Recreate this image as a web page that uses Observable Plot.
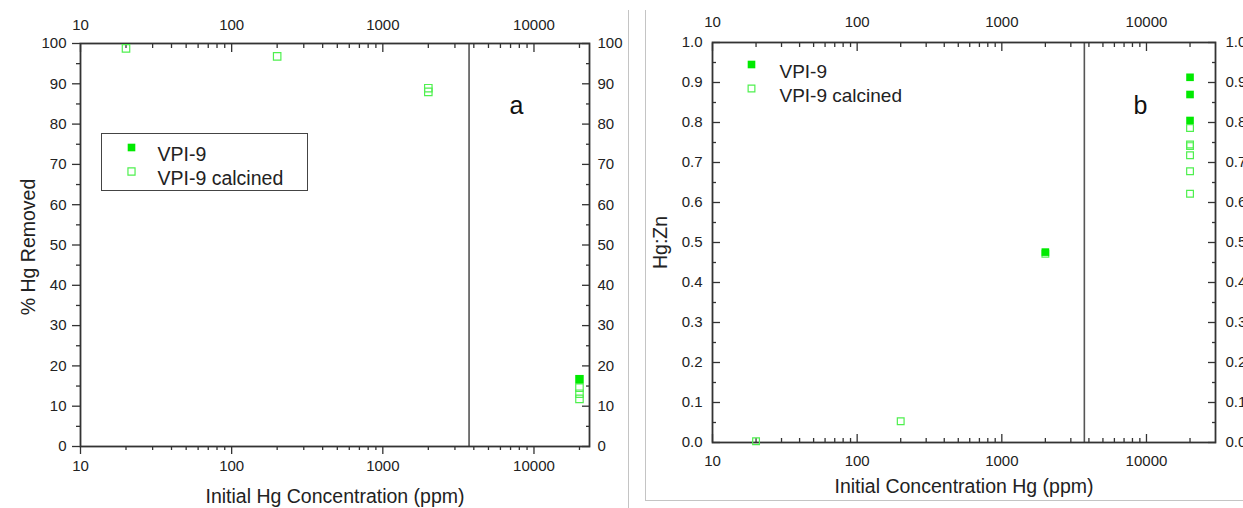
<!DOCTYPE html>
<html><head><meta charset="utf-8">
<script src="https://cdn.jsdelivr.net/npm/d3@7"></script>
<script src="https://cdn.jsdelivr.net/npm/@observablehq/plot@0.6"></script>
<style>
body{margin:0;background:#fff;}
#wrap{position:relative;width:1243px;height:508px;overflow:hidden;font-family:"Liberation Sans",Arial,sans-serif;background:#fff;}
#pa{position:absolute;left:0;top:0;}
#pb{position:absolute;left:629px;top:0;}
.sep{position:absolute;background:#c4c4c4;}
</style></head><body>
<div id="wrap"><div id="pa"></div><div id="pb"></div>
<div class="sep" style="left:628px;top:10px;width:1px;height:498px"></div>
<div class="sep" style="left:645px;top:10px;width:1px;height:491px"></div>
<div class="sep" style="left:645px;top:500px;width:598px;height:1px"></div>
</div>
<script>
// ---- shared x ticks ----
const majorX = [10, 100, 1000, 10000];
const minorX = [20, 30, 40, 50, 60, 70, 80, 90, 200, 300, 400, 500, 600, 700, 800, 900,
                2000, 3000, 4000, 5000, 6000, 7000, 8000, 9000, 20000];
const cutoff = [3720];

// ---- panel a: % Hg removed ----
const aMajorY = [0, 10, 20, 30, 40, 50, 60, 70, 80, 90, 100];
const aMinorY = [5, 15, 25, 35, 45, 55, 65, 75, 85, 95];
const aVpiX = [20000];
const aVpiY = [16.7];
const aCalX = [20, 200, 2000, 2000, 20000, 20000, 20000];
const aCalY = [98.8, 96.8, 88.9, 88.0, 14.6, 13.1, 11.8];

// ---- panel b: Hg:Zn ----
const bMajorY = [0, 0.1, 0.2, 0.3, 0.4, 0.5, 0.6, 0.7, 0.8, 0.9, 1.0];
const bMinorY = [0.05, 0.15, 0.25, 0.35, 0.45, 0.55, 0.65, 0.75, 0.85, 0.95];
const bVpiX = [2000, 20000, 20000, 20000];
const bVpiY = [0.476, 0.913, 0.870, 0.805];
const bCalX = [20, 200, 2000, 20000, 20000, 20000, 20000, 20000, 20000];
const bCalY = [0.003, 0.053, 0.472, 0.786, 0.745, 0.741, 0.718, 0.678, 0.622];

const seriesNames = ["VPI-9", "VPI-9 calcined"];
const FILL = "#00ea00", HOLLOW = "#4ff04f";
const FONT = "Liberation Sans, Arial, sans-serif";

function pts(xs, ys) { return xs.map((x, i) => ({x, y: ys[i]})); }
const none = () => "";

function axisMarks(cfg) {
  const m = [];
  const AX = "#333";
  const bIn = cfg.bottomIn;
  m.push(Plot.axisX({ticks: majorX, anchor: "bottom", tickSize: 8, dy: bIn ? -8 : 0, tickFormat: none, stroke: AX, strokeWidth: 1.3, label: null}));
  m.push(Plot.axisX({ticks: minorX, anchor: "bottom", tickSize: 4, dy: bIn ? -4 : 0, tickFormat: none, stroke: AX, strokeWidth: 1.3, label: null}));
  m.push(Plot.axisX({ticks: majorX, anchor: "bottom", tickSize: 0, tickPadding: cfg.bottomPad, tickFormat: d => String(d), fontSize: cfg.fs, label: null}));
  m.push(Plot.axisX({ticks: majorX, anchor: "top", tickSize: 8, dy: 8, tickFormat: none, stroke: AX, strokeWidth: 1.3, label: null}));
  m.push(Plot.axisX({ticks: minorX, anchor: "top", tickSize: 4, dy: 4, tickFormat: none, stroke: AX, strokeWidth: 1.3, label: null}));
  m.push(Plot.axisX({ticks: majorX, anchor: "top", tickSize: 0, tickPadding: cfg.topPad, tickFormat: d => String(d), fontSize: cfg.fs, label: null}));
  const lIn = cfg.leftIn;
  m.push(Plot.axisY({ticks: cfg.majorY, anchor: "left", tickSize: 8, dx: lIn ? 8 : 0, tickFormat: none, stroke: AX, strokeWidth: 1.3, label: null}));
  m.push(Plot.axisY({ticks: cfg.minorY, anchor: "left", tickSize: 4, dx: lIn ? 4 : 0, tickFormat: none, stroke: AX, strokeWidth: 1.3, label: null}));
  m.push(Plot.axisY({ticks: cfg.majorY, anchor: "left", tickSize: 0, tickPadding: cfg.leftPad, tickFormat: cfg.fmt, fontSize: cfg.fs, label: null}));
  m.push(Plot.axisY({ticks: cfg.majorY, anchor: "right", tickSize: 8, dx: -8, tickFormat: none, stroke: AX, strokeWidth: 1.3, label: null}));
  m.push(Plot.axisY({ticks: cfg.minorY, anchor: "right", tickSize: 4, dx: -4, tickFormat: none, stroke: AX, strokeWidth: 1.3, label: null}));
  m.push(Plot.axisY({ticks: cfg.majorY, anchor: "right", tickSize: 0, tickPadding: cfg.rightPad, tickFormat: cfg.fmt, fontSize: cfg.fs, label: null}));
  return m;
}

const style = {fontFamily: FONT, fontSize: "15px", color: "#222", background: "transparent", overflow: "visible"};

// ---------- Panel a ----------
const plotA = Plot.plot({
  width: 628, height: 508,
  marginLeft: 80, marginRight: 39, marginTop: 43, marginBottom: 62,
  x: {type: "log", domain: [10, 23300]},
  y: {domain: [0, 100]},
  style,
  marks: [
    Plot.ruleX(cutoff, {stroke: "#555", strokeWidth: 1.6}),
    ...axisMarks({majorY: aMajorY, minorY: aMinorY, fmt: d => String(d), fs: 15,
                  bottomIn: false, leftIn: false, bottomPad: 14, topPad: 14, leftPad: 14, rightPad: 8}),
    Plot.frame({stroke: "#333", strokeWidth: 1.8}),
    Plot.dot(pts(aCalX, aCalY), {x: "x", y: "y", symbol: "square", r: 4.2, stroke: HOLLOW, strokeWidth: 1.2, fill: "none"}),
    Plot.dot(pts(aVpiX, aVpiY), {x: "x", y: "y", symbol: "square", r: 4.8, fill: FILL, stroke: "none"}),
    // legend
    Plot.frame({insetLeft: 21, insetTop: 90, insetRight: 282, insetBottom: 256, stroke: "#444", strokeWidth: 1}),
    Plot.dot([0], {frameAnchor: "top-left", dx: 51, dy: 104, symbol: "square", r: 4.3, fill: FILL, stroke: "none"}),
    Plot.dot([0], {frameAnchor: "top-left", dx: 51, dy: 128, symbol: "square", r: 4.0, fill: "none", stroke: HOLLOW, strokeWidth: 1.2}),
    Plot.text([seriesNames[0]], {frameAnchor: "top-left", dx: 77, dy: 104, text: d => d, textAnchor: "start", fontSize: 19.5, fill: "#222"}),
    Plot.text([seriesNames[1]], {frameAnchor: "top-left", dx: 77, dy: 128, text: d => d, textAnchor: "start", fontSize: 19.5, fill: "#222"}),
    Plot.text(["a"], {frameAnchor: "top-left", dx: 436, dy: 53, text: d => d, textAnchor: "middle", fontSize: 25, fill: "#111"}),
    Plot.text(["Initial Hg Concentration (ppm)"], {frameAnchor: "bottom", dy: 56, text: d => d, textAnchor: "middle", fontSize: 19.5, fill: "#222"}),
    Plot.text(["% Hg Removed"], {frameAnchor: "left", dx: -52, dy: 2, rotate: -90, text: d => d, textAnchor: "middle", fontSize: 19.5, fill: "#222"})
  ]
});
document.getElementById("pa").append(plotA);

// ---------- Panel b ----------
const plotB = Plot.plot({
  width: 614, height: 508,
  marginLeft: 83, marginRight: 28, marginTop: 42, marginBottom: 66,
  x: {type: "log", domain: [10, 30000]},
  y: {domain: [0, 1]},
  style,
  marks: [
    Plot.ruleX(cutoff, {stroke: "#555", strokeWidth: 1.6}),
    ...axisMarks({majorY: bMajorY, minorY: bMinorY, fmt: d3.format(".1f"), fs: 15,
                  bottomIn: true, leftIn: true, bottomPad: 13, topPad: 16, leftPad: 10, rightPad: 10}),
    Plot.frame({stroke: "#333", strokeWidth: 1.8}),
    Plot.dot(pts(bCalX, bCalY), {x: "x", y: "y", symbol: "square", r: 3.8, stroke: HOLLOW, strokeWidth: 1.2, fill: "none"}),
    Plot.dot(pts(bVpiX, bVpiY), {x: "x", y: "y", symbol: "square", r: 4.3, fill: FILL, stroke: "none"}),
    // legend
    Plot.dot([0], {frameAnchor: "top-left", dx: 39, dy: 22, symbol: "square", r: 4.3, fill: FILL, stroke: "none"}),
    Plot.dot([0], {frameAnchor: "top-left", dx: 39, dy: 46, symbol: "square", r: 3.8, fill: "none", stroke: HOLLOW, strokeWidth: 1.2}),
    Plot.text([seriesNames[0]], {frameAnchor: "top-left", dx: 67, dy: 22, text: d => d, textAnchor: "start", fontSize: 19, fill: "#222"}),
    Plot.text([seriesNames[1]], {frameAnchor: "top-left", dx: 67, dy: 46, text: d => d, textAnchor: "start", fontSize: 19, fill: "#222"}),
    Plot.text(["b"], {frameAnchor: "top-left", dx: 428, dy: 54, text: d => d, textAnchor: "middle", fontSize: 25, fill: "#111"}),
    Plot.text(["Initial Concentration Hg (ppm)"], {frameAnchor: "bottom", dy: 50, text: d => d, textAnchor: "middle", fontSize: 19.5, fill: "#222"}),
    Plot.text(["Hg:Zn"], {frameAnchor: "left", dx: -52, rotate: -90, text: d => d, textAnchor: "middle", fontSize: 19.5, fill: "#222"})
  ]
});
document.getElementById("pb").append(plotB);
</script>
</body></html>
